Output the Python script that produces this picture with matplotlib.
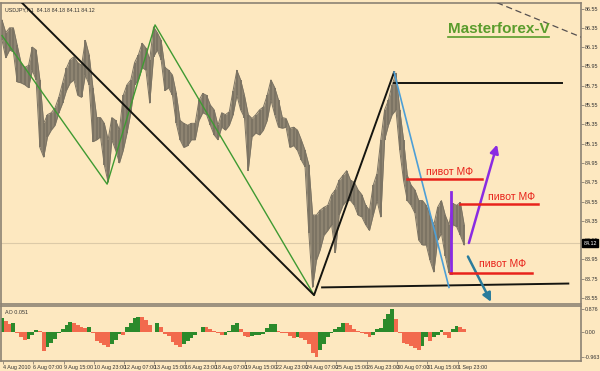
import numpy as np
import matplotlib
matplotlib.use("Agg")
import matplotlib.pyplot as plt
from matplotlib.lines import Line2D

# ---------------- data ----------------
symbol_info = "USDJPY,H1  84.18 84.18 84.11 84.12"
ao_info = "AO 0.051"
brand = "Masterforex-V"
pivot_label = "пивот МФ"
last_price = 84.12

date_labels = ["4 Aug 2010", "6 Aug 07:00", "9 Aug 15:00", "10 Aug 23:00",
               "12 Aug 07:00", "13 Aug 15:00", "16 Aug 23:00", "18 Aug 07:00",
               "19 Aug 15:00", "22 Aug 23:00", "24 Aug 07:00", "25 Aug 15:00",
               "26 Aug 23:00", "30 Aug 07:00", "31 Aug 15:00", "1 Sep 23:00"]
bars_per_label = 32
bars_per_sample = 4

price_ticks = [86.55, 86.35, 86.15, 85.95, 85.75, 85.55, 85.35, 85.15, 84.95,
               84.75, 84.55, 84.35, 84.15, 83.95, 83.75, 83.55]
ao_ticks = [0.876, 0.00, -0.963]
ao_tick_labels = ["0.876", "0.00", "-0.963"]

high = [86.43, 86.30, 86.35, 86.35, 86.17, 85.99, 85.94, 85.96, 86.15, 86.12,
        85.81, 85.36, 85.45, 85.47, 85.52, 85.63, 85.78, 85.93, 86.02, 86.05,
        85.99, 85.96, 86.22, 86.07, 85.73, 85.42, 85.42, 85.36, 85.19, 85.42,
        85.39, 85.29, 85.65, 85.76, 85.81, 85.99, 86.07, 86.19, 86.14, 86.02,
        86.36, 86.30, 86.22, 85.94, 85.91, 85.86, 85.67, 85.39, 85.36, 85.34,
        85.36, 85.36, 85.60, 85.67, 85.65, 85.55, 85.50, 85.34, 85.47, 85.45,
        85.48, 85.70, 85.91, 85.81, 85.65, 85.45, 85.41, 85.45, 85.50, 85.53,
        85.65, 85.81, 85.73, 85.60, 85.42, 85.41, 85.31, 85.32, 85.29, 85.19,
        85.08, 84.93, 84.41, 84.41, 84.46, 84.49, 84.51, 84.62, 84.67, 84.77,
        84.82, 84.87, 84.77, 84.75, 84.67, 84.62, 84.51, 84.46, 84.72, 84.84,
        85.19, 85.50, 85.60, 85.76, 85.88, 85.50, 85.19, 84.82, 84.72, 84.67,
        84.56, 84.56, 84.51, 84.41, 84.31, 84.49, 84.56, 84.41, 84.31, 84.53,
        84.51, 84.54, 84.31]
low = [86.22, 86.04, 86.12, 86.10, 85.79, 85.78, 85.76, 85.73, 85.91, 85.81,
       85.11, 85.01, 85.22, 85.29, 85.34, 85.47, 85.57, 85.70, 85.78, 85.81,
       85.65, 85.63, 85.86, 85.76, 85.17, 85.19, 85.22, 84.93, 84.75, 85.19,
       85.08, 84.95, 85.08, 85.26, 85.47, 85.76, 85.81, 85.94, 85.91, 85.57,
       86.05, 86.12, 86.02, 85.70, 85.73, 85.65, 85.36, 85.19, 85.11, 85.13,
       85.19, 85.19, 85.39, 85.47, 85.45, 85.34, 85.24, 85.19, 85.32, 85.29,
       85.34, 85.45, 85.65, 85.50, 85.42, 84.87, 85.22, 85.26, 85.24, 85.29,
       85.39, 85.60, 85.45, 85.32, 85.31, 85.32, 85.11, 85.13, 85.08, 84.98,
       84.91, 84.22, 83.66, 83.94, 84.05, 84.20, 84.25, 84.31, 84.02, 84.41,
       84.51, 84.56, 84.56, 84.51, 84.41, 84.39, 84.31, 84.25, 84.41, 84.56,
       84.39, 85.19, 85.34, 85.45, 85.50, 85.08, 84.77, 84.56, 84.51, 84.43,
       84.15, 84.10, 84.10, 83.94, 83.82, 84.15, 84.22, 83.99, 83.81, 84.31,
       84.29, 84.20, 84.10]
ao = [0.52, 0.40, 0.30, 0.34, -0.05, -0.20, -0.29, -0.25, -0.10, 0.09,
      0.02, -0.72, -0.58, -0.42, -0.27, -0.05, 0.12, 0.25, 0.37, 0.33,
      0.25, 0.20, 0.17, 0.20, -0.05, -0.35, -0.41, -0.50, -0.56, -0.45,
      -0.30, -0.08, -0.10, 0.20, 0.35, 0.55, 0.59, 0.58, 0.45, 0.25,
      0.00, 0.34, 0.20, -0.08, -0.15, -0.38, -0.50, -0.56, -0.45, -0.33,
      -0.22, -0.10, 0.00, 0.19, 0.18, 0.10, 0.05, -0.05, -0.12, -0.10,
      0.05, 0.25, 0.34, 0.10, -0.16, -0.20, -0.15, -0.12, -0.10, -0.08,
      0.15, 0.30, 0.32, 0.05, -0.05, -0.05, -0.15, -0.22, -0.20, -0.22,
      -0.30, -0.45, -0.80, -0.97, -0.70, -0.45, -0.20, -0.02, 0.12, 0.20,
      0.34, 0.34, 0.27, 0.12, 0.02, -0.04, -0.06, -0.20, -0.10, 0.10,
      0.15, 0.50, 0.70, 0.88, 0.50, -0.05, -0.41, -0.45, -0.55, -0.60,
      -0.68, -0.55, -0.20, -0.35, -0.20, -0.12, 0.09, -0.10, -0.22, 0.10,
      0.24, 0.20, 0.12]

# drawing objects: (bar index, price)
zigzag_black = [(20, 86.62), (329.5, 83.58), (414, 85.89)]
zigzag_green = [(0, 86.27), (111, 84.73), (161.6, 86.38), (329.5, 83.58)]
level_top = [(414, 85.78), (591, 85.78)]
level_bottom = [(338, 83.66), (598, 83.70)]
blue_line = [(414, 85.89), (472, 83.66)]
purple_bar = [(474.1, 84.65), (474.1, 83.81)]
arrow_up = [(493, 84.12), (522.7, 85.14)]
arrow_down = [(492, 83.98), (516.4, 83.51)]
dashed_line = [(522.7, 86.61), (620, 86.22)]
pivots = [(427.7, 506.9, 84.78), (483.6, 566.0, 84.52), (473.0, 559.7, 83.81)]
pivot_text_pos = [(473, 84.86), (538.5, 84.60), (529, 83.90)]

# ---------------- style ----------------
BG = "#fde8c0"
FRAME = "#8c8274"
BARC = "#7b7363"
TXT = "#333333"
SMALL = dict(fontsize=3.9, family="Liberation Sans")

fig = plt.figure(figsize=(6.0, 3.71), dpi=100, facecolor=BG)
ax = fig.add_axes([1 / 600, 67 / 371, 580 / 600, 301 / 371], facecolor=BG)
ax2 = fig.add_axes([1 / 600, 10 / 371, 580 / 600, 55 / 371], facecolor=BG)

xs = np.arange(len(high)) * bars_per_sample
ax.fill_between(xs, low, high, color=BARC, alpha=0.85, lw=0, zorder=2)
ax.vlines(xs, low, high, color=BARC, linewidth=1.3, zorder=2)
ax.plot(xs, high, color=BARC, lw=0.7, zorder=2)
ax.plot(xs, low, color=BARC, lw=0.7, zorder=2)

ax.axhline(last_price, color="#dccaa8", lw=0.8, zorder=1)


def seg(points, **kw):
    px, py = zip(*points)
    ax.plot(px, py, **kw)


seg(zigzag_green, color="#3f9a32", lw=1.0, zorder=3)
seg(zigzag_black, color="#151510", lw=1.4, zorder=4)
seg(level_top, color="#151510", lw=1.4, zorder=4)
seg(level_bottom, color="#151510", lw=1.4, zorder=4)
seg(blue_line, color="#4d9fd6", lw=1.2, zorder=4)
seg(purple_bar, color="#8a2be2", lw=2.0, zorder=4)
seg(dashed_line, color="#555050", lw=0.9, ls=(0, (5, 3)), zorder=4)

for (a, b), c in [((arrow_up[0], arrow_up[1]), "#8a2be2"),
                  ((arrow_down[0], arrow_down[1]), "#2a7c9c")]:
    ax.annotate("", xy=b, xytext=a,
                arrowprops=dict(arrowstyle="-|>,head_length=0.5,head_width=0.25",
                                color=c, lw=1.8, shrinkA=0, shrinkB=0), zorder=5)

for (x0, x1, p), (tx, ty) in zip(pivots, pivot_text_pos):
    ax.plot([x0, x1], [p, p], color="#e8231b", lw=1.8, zorder=5)
    ax.text(tx, ty, pivot_label, color="#e8231b", fontsize=7.6,
            family="Liberation Sans", ha="center", va="center", zorder=6)

bt = ax.text(0.858, 0.915, brand, transform=ax.transAxes, color="#5a9c2c",
             fontsize=11, fontweight="bold", family="Liberation Sans",
             ha="center", va="center", zorder=6)
ax.text(0.007, 0.985, symbol_info, transform=ax.transAxes, color=TXT,
        ha="left", va="top", **SMALL)

ax.set_xlim(-1.06, 611.4)
ax.set_ylim(83.488, 86.607)
ax.yaxis.tick_right()
ax.set_yticks(price_ticks)
ax.set_yticklabels([f"{v:.2f}" for v in price_ticks], **SMALL)
ax.tick_params(axis="y", length=2, width=0.6, pad=1,
               colors=FRAME, labelcolor=TXT)
ax.set_xticks([])
ax.text(1.004, last_price, f"{last_price:.2f}", transform=ax.get_yaxis_transform(),
        color="white", ha="left", va="center",
        bbox=dict(boxstyle="square,pad=0.2", fc="black", ec="black"), zorder=7,
        **SMALL)

# AO panel
ao_arr = np.array(ao)
up = np.concatenate([[True], ao_arr[1:] > ao_arr[:-1]])
cols = np.where(up, "#2b8a2b", "#f26a4d")
ax2.bar(xs, ao_arr, width=bars_per_sample, color=cols, linewidth=0, zorder=2)
ax2.set_xlim(-1.06, 611.4)
ax2.set_ylim(-1.104, 0.99)
ax2.yaxis.tick_right()
ax2.set_yticks(ao_ticks)
ax2.set_yticklabels(ao_tick_labels, **SMALL)
ax2.tick_params(axis="y", length=2, width=0.6, pad=1,
                colors=FRAME, labelcolor=TXT)
tick_pos = np.arange(len(date_labels)) * bars_per_label + 1
ax2.set_xticks(tick_pos)
ax2.set_xticklabels(date_labels, ha="left", **SMALL)
ax2.tick_params(axis="x", length=2, width=0.6, pad=1,
                colors=FRAME, labelcolor=TXT)
ax2.text(0.007, 0.93, ao_info, transform=ax2.transAxes, color=TXT,
         ha="left", va="top", **SMALL)

for a in (ax, ax2):
    for s in a.spines.values():
        s.set_color(FRAME)
        s.set_linewidth(1.2)

# underline for brand text
fig.canvas.draw()
bb = bt.get_window_extent()
fig.add_artist(Line2D([bb.x0, bb.x1], [bb.y0 - 1, bb.y0 - 1], color="#5a9c2c",
                      lw=1.2, transform=None))

fig.savefig("out.png", dpi=100, facecolor=BG)
